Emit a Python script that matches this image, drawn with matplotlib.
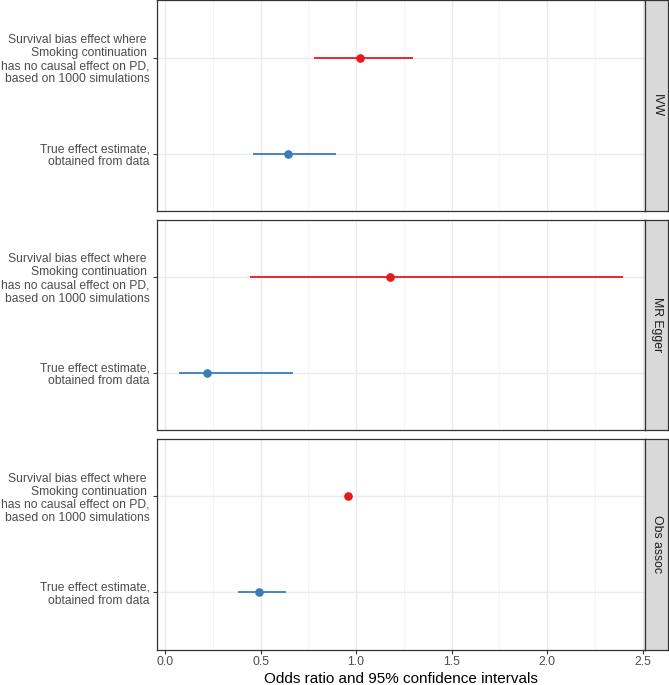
import matplotlib
matplotlib.use("Agg")
import matplotlib.pyplot as plt
from matplotlib.ticker import MultipleLocator

plt.rcParams['font.family'] = ['Liberation Sans', 'DejaVu Sans']

# data
methods = ["IVW", "MR Egger", "Obs assoc"]
labels = ["True effect estimate,\nobtained from data",
          "Survival bias effect where \nSmoking continuation \nhas no causal effect on PD,\nbased on 1000 simulations"]

bias_or = [1.02, 1.177, 0.959]
bias_lo = [0.779, 0.445, 0.952]
bias_hi = [1.295, 2.395, 0.966]

true_or = [0.642, 0.221, 0.490]
true_lo = [0.462, 0.073, 0.382]
true_hi = [0.893, 0.671, 0.631]

red = "#E41A1C"
blue = "#377EB8"

W, H = 669, 685
fig = plt.figure(figsize=(W / 100, H / 100), dpi=100)

# shared x range with ggplot-like 5% expansion
xmin = min(bias_lo + true_lo)
xmax = max(bias_hi + true_hi)
pad = 0.05 * (xmax - xmin)

left, right = 156.7, 645.0
strip_w = 23.3
panel_h = 210.8
gap = 8.4
top0 = 0.3

for i, m in enumerate(methods):
    top = top0 + i * (panel_h + gap)
    ax = fig.add_axes([left / W, 1 - (top + panel_h) / H, (right - left) / W, panel_h / H])

    ax.set_xlim(xmin - pad, xmax + pad)
    ax.set_ylim(0.4, 2.6)
    ax.xaxis.set_major_locator(MultipleLocator(0.5))
    ax.xaxis.set_minor_locator(MultipleLocator(0.25))
    ax.set_yticks([1, 2])
    ax.set_yticklabels(labels, color="#4D4D4D", fontsize=8.7, ha="right",
                       multialignment="right", linespacing=1.12)
    ax.grid(which="major", color="#EBEBEB", linewidth=1.0)
    ax.grid(which="minor", axis="x", color="#F2F2F2", linewidth=0.6)
    ax.set_axisbelow(True)
    ax.tick_params(which="major", length=2.75, width=0.8, color="#333333", pad=2.2)
    ax.tick_params(which="minor", length=0)
    for s in ax.spines.values():
        s.set_color("#333333")
        s.set_linewidth(0.9)

    ax.hlines(2, bias_lo[i], bias_hi[i], color=red, linewidth=1.3, zorder=3)
    ax.plot(bias_or[i], 2, "o", color=red, markersize=5.2, zorder=4)
    ax.hlines(1, true_lo[i], true_hi[i], color=blue, linewidth=1.3, zorder=3)
    ax.plot(true_or[i], 1, "o", color=blue, markersize=5.2, zorder=4)

    if i < len(methods) - 1:
        ax.tick_params(axis="x", labelbottom=False, length=0)
    else:
        ax.tick_params(axis="x", labelcolor="#4D4D4D", labelsize=8.8)
        ax.set_xticklabels([f"{v:.1f}" for v in ax.get_xticks()])
        ax.set_xlabel("Odds ratio and 95% confidence intervals", fontsize=11, labelpad=2.5)

    # facet strip on the right
    sax = fig.add_axes([right / W, 1 - (top + panel_h) / H, strip_w / W, panel_h / H])
    sax.set_facecolor("#D9D9D9")
    sax.set_xticks([])
    sax.set_yticks([])
    for s in sax.spines.values():
        s.set_color("#333333")
        s.set_linewidth(0.9)
    sax.text(0.5, 0.5, m, rotation=-90, ha="center", va="center",
             fontsize=8.8, color="#1A1A1A", transform=sax.transAxes)

fig.savefig("out.png", dpi=100)
plt.close(fig)
